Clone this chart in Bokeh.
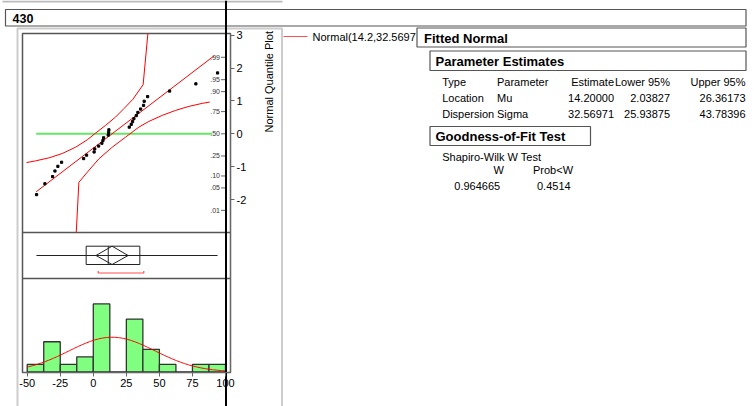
import math
from statistics import NormalDist
from bokeh.plotting import figure
from bokeh.models import Range1d, LinearAxis, FixedTicker
from bokeh.core.properties import value
from bokeh.embed import file_html
from bokeh.resources import INLINE

FONT = "Liberation Sans"

# ---------------- data ----------------
panel_title = "430"
values = [-42.9, -36.6, -30.8, -29.0, -26.8, -24.0, -7.3, -5.1, 0.6, 1.1,
          4.0, 6.5, 7.3, 7.8, 11.3, 11.6, 11.8, 27.2, 28.7, 29.7,
          30.7, 32.5, 33.7, 35.8, 38.0, 38.5, 41.1, 57.7, 77.6, 94.0]
normal_scores = [-1.849, -1.518, -1.300, -1.131, -0.989, -0.865, -0.753, -0.649, -0.553, -0.460,
                 -0.372, -0.287, -0.203, -0.121, -0.040, 0.040, 0.121, 0.203, 0.287, 0.372,
                 0.460, 0.553, 0.649, 0.753, 0.865, 0.989, 1.131, 1.300, 1.518, 1.849]
hist_edges = [-50, -37.5, -25, -12.5, 0, 12.5, 25, 37.5, 50, 62.5, 75, 87.5, 100]
hist_counts = [1, 4, 1, 2, 9, 0, 7, 3, 1, 0, 1, 1]
x_ticks = [-50, -25, 0, 25, 50, 75, 100]
z_ticks = [-2, -1, 0, 1, 2, 3]
prob_ticks = [0.01, 0.05, 0.10, 0.25, 0.50, 0.75, 0.90, 0.95, 0.99]
prob_labels = [".01", ".05", ".10", ".25", ".50", ".75", ".90", ".95", ".99"]
fit_line_x = [-43.2, 91.2]
ref_line_x = [-43.2, 90.0]
band_upper_x = [-50.5, -43.7, -33.6, -23.5, -13.4, -4.6, 1.7, 9.2, 16.8, 23.1, 29.9, 37.7, 41.3]
band_upper_z = [-0.874, -0.823, -0.732, -0.600, -0.407, -0.183, 0.020, 0.254, 0.508, 0.762, 1.047, 1.494, 3.05]
band_lower_x = [-12.9, -10.9, -4.6, 4.2, 14.3, 24.4, 34.5, 42.0, 52.1, 62.2, 72.3, 82.4, 88.1]
band_lower_z = [-3.0, -1.474, -1.169, -0.762, -0.407, -0.102, 0.203, 0.376, 0.559, 0.711, 0.833, 0.925, 0.965]
box_whiskers = [-43.0, 94.0]
box_quartiles = [-5.4, 11.3, 35.2]
mean_diamond = [2.04, 14.2, 26.36]
shortest_half = [3.7, 38.2]
mu, sigma, n_obs, bin_width = 14.2, 32.56971, 30, 12.5
legend_text = "Normal(14.2,32.5697"
table_header = ["Type", "Parameter", "Estimate", "Lower 95%", "Upper 95%"]
table_rows = [["Location", "Mu", "14.20000", "2.03827", "26.36173"],
              ["Dispersion", "Sigma", "32.56971", "25.93875", "43.78396"]]
sw_title = "Shapiro-Wilk W Test"
sw_header = ["W", "Prob<W"]
sw_values = ["0.964665", "0.4514"]

# ---------------- layout (canvas pixels) ----------------
W, H = 754, 406
FL, FR, FT, FB = 22, 230, 33, 372          # chart frame
X_M50, X_100 = 26.7, 225.0                  # pixel of -50 and 100
ppu = (X_100 - X_M50) / 150.0
Z0, ZPX = 133.3, 32.9                       # pixel of z=0, pixels per z unit
C0, CPX = 371.5, 7.567                      # pixel of count 0, pixels per count

def vx(px):
    return -50 + (px - X_M50) / ppu

def zy(py):
    return (Z0 - py) / ZPX

p = figure(width=W, height=H, output_backend="svg", toolbar_location=None,
           x_range=Range1d(0, W), y_range=Range1d(H, 0),
           x_axis_location=None, y_axis_location=None, min_border=0)
p.xgrid.visible = False
p.ygrid.visible = False
p.background_fill_color = "white"
p.border_fill_color = "white"
p.outline_line_color = None
p.extra_x_ranges = {"v": Range1d(vx(0), vx(W))}
p.extra_y_ranges = {"z": Range1d(zy(H), zy(0)),
                    "n": Range1d(-(H - C0) / CPX, C0 / CPX)}

# ---------- decorations: boxes & lines (canvas pixels) ----------
def rect(l, r, t, b, color="#555555", width=1.0):
    p.quad(left=[l], right=[r], top=[t], bottom=[b], fill_color=None, line_color=color, line_width=width)

def seg(x0, y0, x1, y1, color, width):
    p.segment(x0=[x0], y0=[y0], x1=[x1], y1=[y1], line_color=color, line_width=width)

def txt(x, y, s, size=11, bold=False, align="left", color="black", angle=0.0):
    p.text(x=[x], y=[y], text=[s], text_font=value(FONT), text_font_size=f"{size}px",
           text_font_style="bold" if bold else "normal", text_align=align,
           text_baseline="middle", text_color=color, angle=angle)

seg(2, 1, 282, 1, "#bbbbbb", 2)
rect(5, 745.5, 9, 25.5, "#555555", 1.2)
txt(12, 17.5, panel_title, size=12.5, bold=True)
rect(17, 281.5, 28, 420, "#cccccc", 2)

# chart frame and panel separators
rect(FL, FR, FT, FB, "#555555", 1.5)
seg(FL, 232, FR, 232, "#555555", 1.5)
seg(FL, 278, FR, 278, "#555555", 1.5)

# ---------- normal quantile plot ----------
p.line(ref_line_x, [0, 0], x_range_name="v", y_range_name="z", line_color="#66e566", line_width=2)
p.line(fit_line_x, [(x - mu) / sigma for x in fit_line_x], x_range_name="v", y_range_name="z",
       line_color="red", line_width=1)
p.line(band_upper_x, band_upper_z, x_range_name="v", y_range_name="z", line_color="red", line_width=1)
p.line(band_lower_x, band_lower_z, x_range_name="v", y_range_name="z", line_color="red", line_width=1)
p.scatter(values, normal_scores, x_range_name="v", y_range_name="z", marker="square",
          size=2.2, color="black")
pz = [NormalDist().inv_cdf(q) for q in prob_ticks]
p.segment(x0=[220.5] * len(pz), x1=[225.5] * len(pz), y0=pz, y1=pz, y_range_name="z",
          line_color="#666666", line_width=1)
p.text(x=[219.5] * len(pz), y=pz, text=prob_labels, y_range_name="z", text_align="right",
       text_baseline="middle", text_font=value(FONT), text_font_size="7px", text_color="#333333")

zaxis = LinearAxis(y_range_name="z", fixed_location=FR, bounds=(zy(FB), zy(FT)),
                   ticker=FixedTicker(ticks=z_ticks, minor_ticks=[]),
                   major_label_overrides={t: str(t) for t in z_ticks})
xaxis = LinearAxis(x_range_name="v", fixed_location=FB, bounds=(vx(FL), vx(FR)),
                   ticker=FixedTicker(ticks=x_ticks, minor_ticks=[]),
                   major_label_overrides={t: str(t) for t in x_ticks})
for ax in (xaxis, zaxis):
    ax.axis_line_color = "#666666"
    ax.major_tick_line_color = "#666666"
    ax.major_tick_out = 4
    ax.major_tick_in = 0
    ax.major_label_standoff = 2
    ax.major_label_text_font = FONT
    ax.major_label_text_font_size = "11px"
    ax.major_label_text_color = "black"
p.add_layout(xaxis, "below")
p.add_layout(zaxis, "right")

# ---------- box plot ----------
BY, BT, BB = 255, 245.7, 264
p.segment(x0=[box_whiskers[0]], x1=[box_whiskers[1]], y0=[BY], y1=[BY], x_range_name="v",
          line_color="#222222", line_width=1)
p.quad(left=[box_quartiles[0]], right=[box_quartiles[2]], top=[BT], bottom=[BB], x_range_name="v",
       fill_color=None, line_color="#222222", line_width=1)
p.segment(x0=[box_quartiles[1]], x1=[box_quartiles[1]], y0=[BT], y1=[BB], x_range_name="v",
          line_color="#222222", line_width=1)
p.patch([mean_diamond[0], mean_diamond[1], mean_diamond[2], mean_diamond[1]], [BY, BT, BY, BB],
        x_range_name="v", fill_color=None, line_color="#222222", line_width=1)
p.line([shortest_half[0], shortest_half[0], shortest_half[1], shortest_half[1]],
       [270.5, 272.5, 272.5, 270.5], x_range_name="v", line_color="#ff5050", line_width=1.2)

# ---------- histogram ----------
p.quad(left=hist_edges[:-1], right=hist_edges[1:], bottom=0, top=hist_counts,
       x_range_name="v", y_range_name="n", fill_color="#80ff80", line_color="#333333", line_width=1.3)
cx = [hist_edges[0] + i * 1.0 for i in range(151)]
cy = [n_obs * bin_width * math.exp(-0.5 * ((x - mu) / sigma) ** 2) / (sigma * math.sqrt(2 * math.pi))
      for x in cx]
p.line(cx, cy, x_range_name="v", y_range_name="n", line_color="red", line_width=1)

# ---------- legend & labels ----------
seg(283, 36, 307, 36, "#ff5050", 1.2)
txt(312, 36, legend_text)
txt(268, 132, "Normal Quantile Plot", angle=math.pi / 2)

# ---------- report panel ----------
rect(416.5, 745.5, 27.5, 46.5, "#555555", 1.2)
txt(423.5, 37.5, "Fitted Normal", size=13, bold=True)
rect(429.5, 745.5, 50.5, 70, "#555555", 1.2)
txt(435, 60.5, "Parameter Estimates", size=13, bold=True)

col_x = [441.7, 496.5, 613.5, 669.5, 745]
col_al = ["left", "left", "right", "right", "right"]
for j, t in enumerate(table_header):
    txt(col_x[j], 81, t, align=col_al[j])
for i, row in enumerate(table_rows):
    for j, t in enumerate(row):
        txt(col_x[j], 97.3 + 16 * i, t, align=col_al[j])

rect(429.5, 590, 126, 145, "#555555", 1.2)
txt(435, 135.5, "Goodness-of-Fit Test", size=13, bold=True)
txt(441.7, 156.7, sw_title)
txt(498.3, 169.5, sw_header[0], align="center")
txt(552.5, 169.5, sw_header[1], align="center")
txt(476.7, 185, sw_values[0], align="center")
txt(553.3, 185, sw_values[1], align="center")

# crosshair
seg(225.5, 0, 225.5, H, "black", 2)

open("out.html", "w").write(file_html(p, INLINE))
